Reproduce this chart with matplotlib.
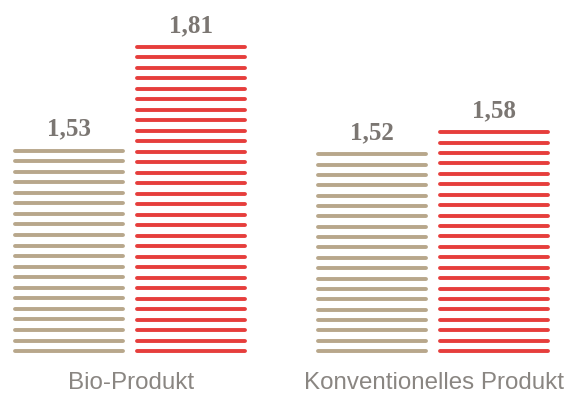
import matplotlib
matplotlib.use("Agg")
import matplotlib.pyplot as plt
import numpy as np

categories = ["Bio-Produkt", "Konventionelles Produkt"]
series_tan = [1.53, 1.52]
series_red = [1.81, 1.58]
value_labels_tan = ["1,53", "1,52"]
value_labels_red = ["1,81", "1,58"]

TAN = "#b8a78b"
RED = "#e63e3c"
GRAY = "#7b7672"

W, H = 581, 394
fig = plt.figure(figsize=(W / 100, H / 100), dpi=100)
ax = fig.add_axes([0, 0, 1, 1])
ax.set_xlim(-0.429, 1.488)
ax.set_ylim(0.872, 1.937)
ax.axis("off")

base = 0.988
step = 0.02824
offset = 0.2013
half = 0.178
lw = 2.8


def stripes(xc, value, color):
    n = int(round((value - base) / step))
    ys = np.linspace(base, value, n + 1)
    lc = ax.hlines(ys, xc - half, xc + half, colors=color, linewidth=lw)
    lc.set_capstyle("round")


for i, cat in enumerate(categories):
    xt = i - offset
    xr = i + offset
    stripes(xt, series_tan[i], TAN)
    stripes(xr, series_red[i], RED)
    ax.text(xt, series_tan[i] + 0.040, value_labels_tan[i], ha="center", va="baseline",
            fontsize=18, fontweight="bold", family="Liberation Serif", color=GRAY)
    ax.text(xr, series_red[i] + 0.040, value_labels_red[i], ha="center", va="baseline",
            fontsize=18, fontweight="bold", family="Liberation Serif", color=GRAY)
    ax.text(i + 0.004, 0.886, cat, ha="center", va="baseline", fontsize=17.4,
            family="Liberation Sans", color="#8a8682")

fig.savefig("out.png", dpi=100)
